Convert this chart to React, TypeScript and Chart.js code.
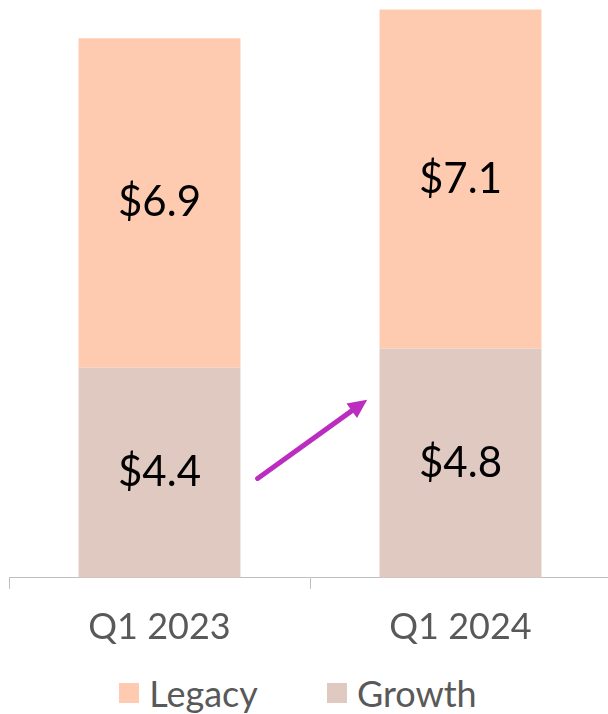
import React, { useEffect, useRef } from "react";
import { Chart, registerables } from "chart.js";

Chart.register(...registerables);

const categories = ["Q1 2023", "Q1 2024"];
const growthValues = [4.4, 4.8];
const legacyValues = [6.9, 7.1];
const seriesNames = ["Growth", "Legacy"];
const legendOrder = ["Legacy", "Growth"];
// arrow annotation in data space (category index, value)
const arrowStart = [0.326, 2.08];
const arrowEnd = [0.69, 3.73];

const LEGACY_COLOR = "#FFCBB0";
const GROWTH_COLOR = "#DFC9C1";
const ARROW_COLOR = "#BA2DBE";
const FONT = "Lato, 'Open Sans', sans-serif";
const seriesColors: Record<string, string> = {
  Legacy: LEGACY_COLOR,
  Growth: GROWTH_COLOR,
};

const valueLabelPlugin = {
  id: "valueLabels",
  afterDatasetsDraw(chart: any) {
    const ctx = chart.ctx;
    ctx.save();
    ctx.fillStyle = "#000000";
    ctx.font = `42px ${FONT}`;
    ctx.textAlign = "center";
    ctx.textBaseline = "middle";
    chart.data.datasets.forEach((ds: any, di: number) => {
      const meta = chart.getDatasetMeta(di);
      meta.data.forEach((el: any, i: number) => {
        const c = el.getCenterPoint();
        ctx.fillText("$" + Number(ds.data[i]).toFixed(1), c.x, c.y);
      });
    });
    ctx.restore();
  },
};

const arrowPlugin = {
  id: "arrow",
  afterDatasetsDraw(chart: any) {
    const { ctx, scales } = chart;
    const x1 = scales.x.getPixelForValue(arrowStart[0]);
    const y1 = scales.y.getPixelForValue(arrowStart[1]);
    const x2 = scales.x.getPixelForValue(arrowEnd[0]);
    const y2 = scales.y.getPixelForValue(arrowEnd[1]);
    const ang = Math.atan2(y2 - y1, x2 - x1);
    const headLen = 19;
    const headW = 9;
    const bx = x2 - headLen * Math.cos(ang);
    const by = y2 - headLen * Math.sin(ang);
    ctx.save();
    ctx.strokeStyle = ARROW_COLOR;
    ctx.fillStyle = ARROW_COLOR;
    ctx.lineWidth = 5;
    ctx.lineCap = "round";
    ctx.beginPath();
    ctx.moveTo(x1, y1);
    ctx.lineTo(bx + 2 * Math.cos(ang), by + 2 * Math.sin(ang));
    ctx.stroke();
    ctx.beginPath();
    ctx.moveTo(x2, y2);
    ctx.lineTo(bx + headW * Math.sin(ang), by - headW * Math.cos(ang));
    ctx.lineTo(bx - headW * Math.sin(ang), by + headW * Math.cos(ang));
    ctx.closePath();
    ctx.fill();
    ctx.restore();
  },
};

export default function App() {
  const canvasRef = useRef<HTMLCanvasElement | null>(null);

  useEffect(() => {
    if (!canvasRef.current) return;
    const chart = new Chart(canvasRef.current, {
      type: "bar",
      data: {
        labels: categories,
        datasets: [
          {
            label: seriesNames[0],
            data: growthValues,
            backgroundColor: GROWTH_COLOR,
            barPercentage: 0.538,
            categoryPercentage: 1,
          },
          {
            label: seriesNames[1],
            data: legacyValues,
            backgroundColor: LEGACY_COLOR,
            barPercentage: 0.538,
            categoryPercentage: 1,
          },
        ],
      },
      options: {
        responsive: true,
        maintainAspectRatio: false,
        animation: false,
        layout: { padding: { left: 9, right: 3, top: 0, bottom: 6 } },
        plugins: {
          tooltip: { enabled: false },
          legend: { display: false },
        },
        scales: {
          x: {
            stacked: true,
            offset: true,
            grid: {
              offset: true,
              drawOnChartArea: false,
              drawTicks: true,
              tickLength: 11,
              color: "#BFBFBF",
            },
            border: { display: true, color: "#BFBFBF", width: 1 },
            ticks: {
              color: "#595959",
              font: { family: FONT, size: 36 },
              padding: 17,
            },
          },
          y: {
            stacked: true,
            display: false,
            min: 0,
            max: 12.1,
          },
        },
      },
      plugins: [valueLabelPlugin, arrowPlugin],
    });
    return () => chart.destroy();
  }, []);

  return (
    <div
      style={{
        position: "fixed",
        left: 0,
        top: 0,
        width: 608,
        height: 714,
        overflow: "hidden",
        background: "#ffffff",
      }}
    >
      <div style={{ position: "relative", width: 614, height: 672 }}>
        <canvas ref={canvasRef} />
      </div>
      <div
        style={{
          height: 42,
          display: "flex",
          justifyContent: "center",
          alignItems: "center",
          paddingRight: 12,
          fontFamily: FONT,
          fontSize: 36,
          lineHeight: "42px",
          color: "#595959",
        }}
      >
        {legendOrder.map((name, i) => (
          <div
            key={name}
            style={{
              display: "flex",
              alignItems: "center",
              marginLeft: i === 0 ? 0 : 69,
            }}
          >
            <span
              style={{
                display: "inline-block",
                width: 20,
                height: 20,
                background: seriesColors[name],
                marginRight: 10,
              }}
            />
            <span>{name}</span>
          </div>
        ))}
      </div>
    </div>
  );
}
